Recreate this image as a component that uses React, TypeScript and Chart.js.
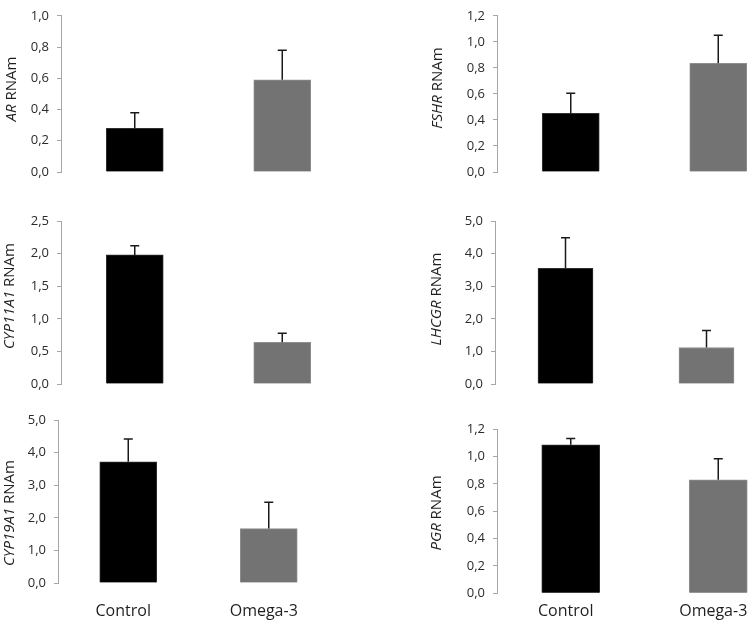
import React, { useEffect, useRef } from "react";
import { Chart, registerables } from "chart.js";

Chart.register(...registerables);

// ---------- data ----------
const categories = ["Control", "Omega-3"];
const genes = ["AR", "FSHR", "CYP11A1", "LHCGR", "CYP19A1", "PGR"];
const arMeans = [0.28, 0.59];
const arErrors = [0.1, 0.19];
const fshrMeans = [0.45, 0.835];
const fshrErrors = [0.155, 0.215];
const cyp11a1Means = [1.98, 0.64];
const cyp11a1Errors = [0.14, 0.14];
const lhcgrMeans = [3.55, 1.12];
const lhcgrErrors = [0.94, 0.52];
const cyp19a1Means = [3.72, 1.67];
const cyp19a1Errors = [0.7, 0.81];
const pgrMeans = [1.087, 0.83];
const pgrErrors = [0.045, 0.155];
const axisMax = [1.0, 1.2, 2.5, 5.0, 5.0, 1.2];
const axisStep = [0.2, 0.2, 0.5, 1.0, 1.0, 0.2];

const means = [arMeans, fshrMeans, cyp11a1Means, lhcgrMeans, cyp19a1Means, pgrMeans];
const errors = [arErrors, fshrErrors, cyp11a1Errors, lhcgrErrors, cyp19a1Errors, pgrErrors];

// ---------- layout (page pixels) ----------
type Panel = {
  left: number; top: number; width: number; height: number;
  l: number; t: number; r: number; b: number;
  tx: number; ty: number; showX: boolean; xPad: number; barW: number;
};
const panels: Panel[] = [
  { left: 0, top: 0, width: 375, height: 200, l: 61, t: 7, r: 356, b: 172, tx: 12, ty: 89, showX: false, xPad: 0, barW: 57 },
  { left: 375, top: 0, width: 430, height: 200, l: 497, t: 7.3, r: 792, b: 172, tx: 438, ty: 88, showX: false, xPad: 0, barW: 57 },
  { left: 0, top: 200, width: 375, height: 200, l: 61, t: 221, r: 356, b: 384, tx: 10, ty: 296, showX: false, xPad: 0, barW: 57 },
  { left: 375, top: 200, width: 430, height: 200, l: 495, t: 221, r: 777, b: 384, tx: 437, ty: 299, showX: false, xPad: 0, barW: 55 },
  { left: 0, top: 400, width: 375, height: 221, l: 58, t: 420, r: 339, b: 583, tx: 10, ty: 513, showX: true, xPad: 11, barW: 57 },
  { left: 375, top: 400, width: 430, height: 221, l: 497, t: 429.3, r: 792, b: 593.3, tx: 437, ty: 513, showX: true, xPad: 1, barW: 58 },
];

const FONT = "'Open Sans', sans-serif";

function PanelChart({ idx }: { idx: number }) {
  const ref = useRef<HTMLCanvasElement>(null);
  const p = panels[idx];
  useEffect(() => {
    if (!ref.current) return;
    const errs = errors[idx];
    const gene = genes[idx];
    const errorBarPlugin = {
      id: "errbars",
      afterDatasetsDraw(chart: any) {
        const ctx = chart.ctx;
        const meta = chart.getDatasetMeta(0);
        const ys = chart.scales.y;
        const vals = chart.data.datasets[0].data as number[];
        ctx.save();
        ctx.strokeStyle = "#1a1a1a";
        ctx.lineWidth = 1.5;
        meta.data.forEach((bar: any, i: number) => {
          const yTop = ys.getPixelForValue(vals[i] + errs[i]);
          ctx.beginPath();
          ctx.moveTo(bar.x, bar.y);
          ctx.lineTo(bar.x, yTop);
          ctx.moveTo(bar.x - 4.5, yTop);
          ctx.lineTo(bar.x + 4.5, yTop);
          ctx.stroke();
        });
        ctx.restore();
      },
    };
    const titlePlugin = {
      id: "ytitle",
      afterDraw(chart: any) {
        const ctx = chart.ctx;
        ctx.save();
        ctx.translate(p.tx - p.left, p.ty - p.top);
        ctx.rotate(-Math.PI / 2);
        ctx.fillStyle = "#1f1f1f";
        ctx.textBaseline = "middle";
        const italic = "italic 15px " + FONT;
        const normal = "15px " + FONT;
        ctx.font = italic;
        const w1 = ctx.measureText(gene).width;
        ctx.font = normal;
        const w2 = ctx.measureText(" RNAm").width;
        const start = -(w1 + w2) / 2;
        ctx.font = italic;
        ctx.textAlign = "left";
        ctx.fillText(gene, start, 0);
        ctx.font = normal;
        ctx.fillText(" RNAm", start + w1, 0);
        ctx.restore();
      },
    };
    const chart = new Chart(ref.current, {
      type: "bar",
      data: {
        labels: categories,
        datasets: [
          {
            data: means[idx],
            backgroundColor: ["#000000", "#737373"],
            borderColor: ["#303030", "#8e8e8e"],
            borderWidth: 1,
            barThickness: p.barW,
          },
        ],
      },
      options: {
        animation: false,
        responsive: false,
        devicePixelRatio: 1,
        layout: {
          padding: {
            left: 0,
            top: p.t - p.top,
            right: p.left + p.width - p.r,
            bottom: 0,
          },
        },
        plugins: { legend: { display: false }, tooltip: { enabled: false } },
        scales: {
          x: {
            type: "category",
            offset: true,
            grid: { display: false },
            border: { display: false },
            ticks: {
              display: p.showX,
              color: "#1f1f1f",
              font: { family: FONT, size: 16 },
              padding: p.xPad,
              labelOffset: -5,
              maxRotation: 0,
            },
            afterFit(scale: any) {
              scale.height = p.top + p.height - p.b;
            },
          },
          y: {
            min: 0,
            max: axisMax[idx],
            grid: {
              drawOnChartArea: false,
              drawTicks: true,
              tickLength: 4,
              color: "#a6a6a6",
            },
            border: { display: true, color: "#a6a6a6", width: 1 },
            ticks: {
              stepSize: axisStep[idx],
              color: "#2b2b2b",
              font: { family: FONT, size: 13 },
              padding: 8,
              callback: (v: any) => Number(v).toFixed(1).replace(".", ","),
            },
            afterFit(scale: any) {
              scale.width = p.l - p.left;
            },
          },
        },
      },
      plugins: [errorBarPlugin, titlePlugin],
    });
    return () => chart.destroy();
  }, [idx]);
  return (
    <canvas
      ref={ref}
      width={p.width}
      height={p.height}
      style={{ position: "absolute", left: p.left, top: p.top, width: p.width, height: p.height }}
    />
  );
}

export default function App() {
  return (
    <div
      style={{
        position: "absolute",
        left: 0,
        top: 0,
        width: 750,
        height: 621,
        overflow: "hidden",
        background: "#ffffff",
      }}
    >
      {panels.map((_, i) => (
        <PanelChart key={i} idx={i} />
      ))}
    </div>
  );
}
